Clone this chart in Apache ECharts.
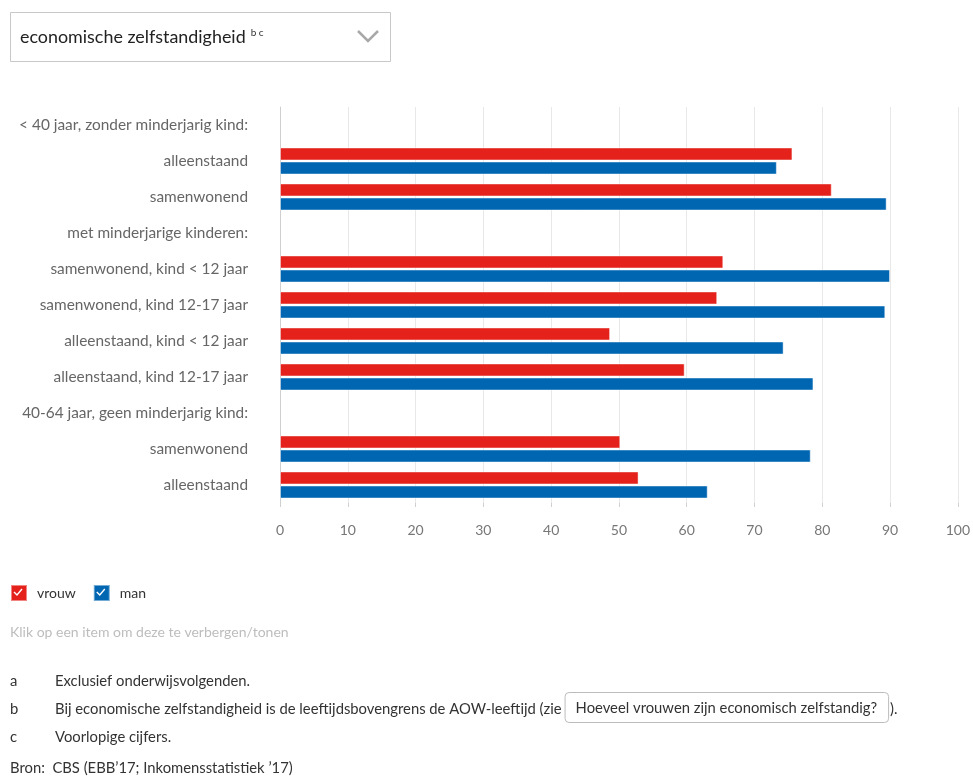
<!DOCTYPE html>
<html>
<head>
<meta charset="utf-8">
<script src="https://cdn.jsdelivr.net/npm/echarts@6/dist/echarts.min.js"></script>
<style>
html,body{margin:0;padding:0;background:#fff;}
#chart{width:973px;height:776px;}
</style>
</head>
<body>
<div id="chart"></div>
<script>
var categories = [
  '< 40 jaar, zonder minderjarig kind:',
  'alleenstaand',
  'samenwonend',
  'met minderjarige kinderen:',
  'samenwonend, kind < 12 jaar',
  'samenwonend, kind 12-17 jaar',
  'alleenstaand, kind < 12 jaar',
  'alleenstaand, kind 12-17 jaar',
  '40-64 jaar, geen minderjarig kind:',
  'samenwonend',
  'alleenstaand'
];
var vrouw = [null, 75.6, 81.4, null, 65.4, 64.5, 48.7, 59.7, null, 50.2, 52.9];
var man   = [null, 73.3, 89.5, null, 90.0, 89.3, 74.3, 78.7, null, 78.3, 63.1];
var seriesNames = ['vrouw', 'man'];
var xMin = 0, xMax = 100, xStep = 10;

var FONT = 'Lato, "Noto Sans", sans-serif';
var RED = '#e4211a', BLUE = '#0066b2';

function measure(text, size) {
  var c = document.createElement('canvas').getContext('2d');
  c.font = size + 'px ' + FONT;
  return c.measureText(text).width;
}

var chart = echarts.init(document.getElementById('chart'), null, {renderer: 'canvas'});

var FN = 14.8;
var noteB = 'Bij economische zelfstandigheid is de leeftijdsbovengrens de AOW-leeftijd (zie';
var btnText = 'Hoeveel vrouwen zijn economisch zelfstandig?';
var noteBW = measure(noteB, FN);
var btnX = 55 + noteBW + 3;
var btnW = measure(btnText, FN) + 22;
var legText0W = measure(seriesNames[0], 14);

function check(x, y) {
  return {
    type: 'polyline', silent: true, z: 100,
    shape: {points: [[x + 4, y + 8], [x + 7, y + 11], [x + 12, y + 5]]},
    style: {stroke: '#fff', lineWidth: 1.4, fill: null}
  };
}

var leg2X = 10 + 16 + 10 + legText0W + 18;

var option = {
  animation: false,
  textStyle: {fontFamily: FONT},
  grid: {left: 280, right: 13, top: 107, height: 396, containLabel: false},
  xAxis: {
    type: 'value', min: xMin, max: xMax, interval: xStep,
    axisLine: {show: false},
    axisTick: {show: true, length: 4, lineStyle: {color: '#d0d0d0'}},
    axisLabel: {color: '#777', fontSize: 14, margin: 20, fontFamily: FONT},
    splitLine: {show: true, lineStyle: {color: '#e8e8e8', width: 1}}
  },
  yAxis: {
    type: 'category', data: categories, inverse: true,
    axisLine: {show: true, lineStyle: {color: '#cfcfcf', width: 1}},
    axisTick: {show: false},
    axisLabel: {color: '#666', fontSize: 15.4, margin: 32, fontFamily: FONT}
  },
  legend: [
    {data: [seriesNames[0]], left: 10, top: 584, padding: 0, itemWidth: 16, itemHeight: 16, icon: 'rect',
     textStyle: {color: '#333', fontSize: 14, padding: [0, 0, 0, 5], fontFamily: FONT}},
    {data: [seriesNames[1]], left: leg2X, top: 584, padding: 0, itemWidth: 16, itemHeight: 16, icon: 'rect',
     textStyle: {color: '#333', fontSize: 14, padding: [0, 0, 0, 5], fontFamily: FONT}}
  ],
  series: [
    {name: seriesNames[0], type: 'bar', data: vrouw, barWidth: 13, barGap: '8%',
     itemStyle: {color: RED, borderColor: 'rgba(255,255,255,0.45)', borderWidth: 1}},
    {name: seriesNames[1], type: 'bar', data: man, barWidth: 13, barGap: '8%',
     itemStyle: {color: BLUE, borderColor: 'rgba(255,255,255,0.45)', borderWidth: 1}}
  ],
  graphic: [
    {type: 'rect', shape: {x: 10.5, y: 12.5, width: 380, height: 49},
     style: {fill: '#fff', stroke: '#c8c8c8', lineWidth: 1}},
    {type: 'text', x: 20, y: 37, style: {text: 'economische zelfstandigheid', fill: '#222',
      font: '17.9px ' + FONT, textVerticalAlign: 'middle'}},
    {type: 'text', x: 20 + measure('economische zelfstandigheid', 17.9) + 5, y: 33,
     style: {text: 'b c', fill: '#333', font: '10px ' + FONT, textVerticalAlign: 'middle'}},
    {type: 'polyline', shape: {points: [[358, 31], [368, 41], [378, 31]]},
     style: {stroke: '#a8a8a8', lineWidth: 2.5, fill: null}},
    check(10, 584),
    check(leg2X, 584),
    {type: 'text', x: 10, y: 632, style: {text: 'Klik op een item om deze te verbergen/tonen',
      fill: '#bdbdbd', font: '14px ' + FONT, textVerticalAlign: 'middle'}},
    {type: 'text', x: 10, y: 681, style: {text: 'a', fill: '#333', font: FN + 'px ' + FONT, textVerticalAlign: 'middle'}},
    {type: 'text', x: 55, y: 681, style: {text: 'Exclusief onderwijsvolgenden.', fill: '#333', font: FN + 'px ' + FONT, textVerticalAlign: 'middle'}},
    {type: 'text', x: 10, y: 709, style: {text: 'b', fill: '#333', font: FN + 'px ' + FONT, textVerticalAlign: 'middle'}},
    {type: 'text', x: 55, y: 709, style: {text: noteB, fill: '#333', font: FN + 'px ' + FONT, textVerticalAlign: 'middle'}},
    {type: 'rect', shape: {x: btnX + 0.5, y: 692.5, width: btnW, height: 30, r: 4},
     style: {fill: '#fff', stroke: '#bcbcbc', lineWidth: 1}},
    {type: 'text', x: btnX + 11, y: 708, style: {text: btnText, fill: '#333', font: FN + 'px ' + FONT, textVerticalAlign: 'middle'}},
    {type: 'text', x: btnX + btnW + 2, y: 709, style: {text: ').', fill: '#333', font: FN + 'px ' + FONT, textVerticalAlign: 'middle'}},
    {type: 'text', x: 10, y: 737, style: {text: 'c', fill: '#333', font: FN + 'px ' + FONT, textVerticalAlign: 'middle'}},
    {type: 'text', x: 55, y: 737, style: {text: 'Voorlopige cijfers.', fill: '#333', font: FN + 'px ' + FONT, textVerticalAlign: 'middle'}},
    {type: 'text', x: 10, y: 768, style: {text: 'Bron:  CBS (EBB\u201917; Inkomensstatistiek \u201917)', fill: '#333', font: FN + 'px ' + FONT, textVerticalAlign: 'middle'}}
  ]
};
chart.setOption(option);
</script>
</body>
</html>
